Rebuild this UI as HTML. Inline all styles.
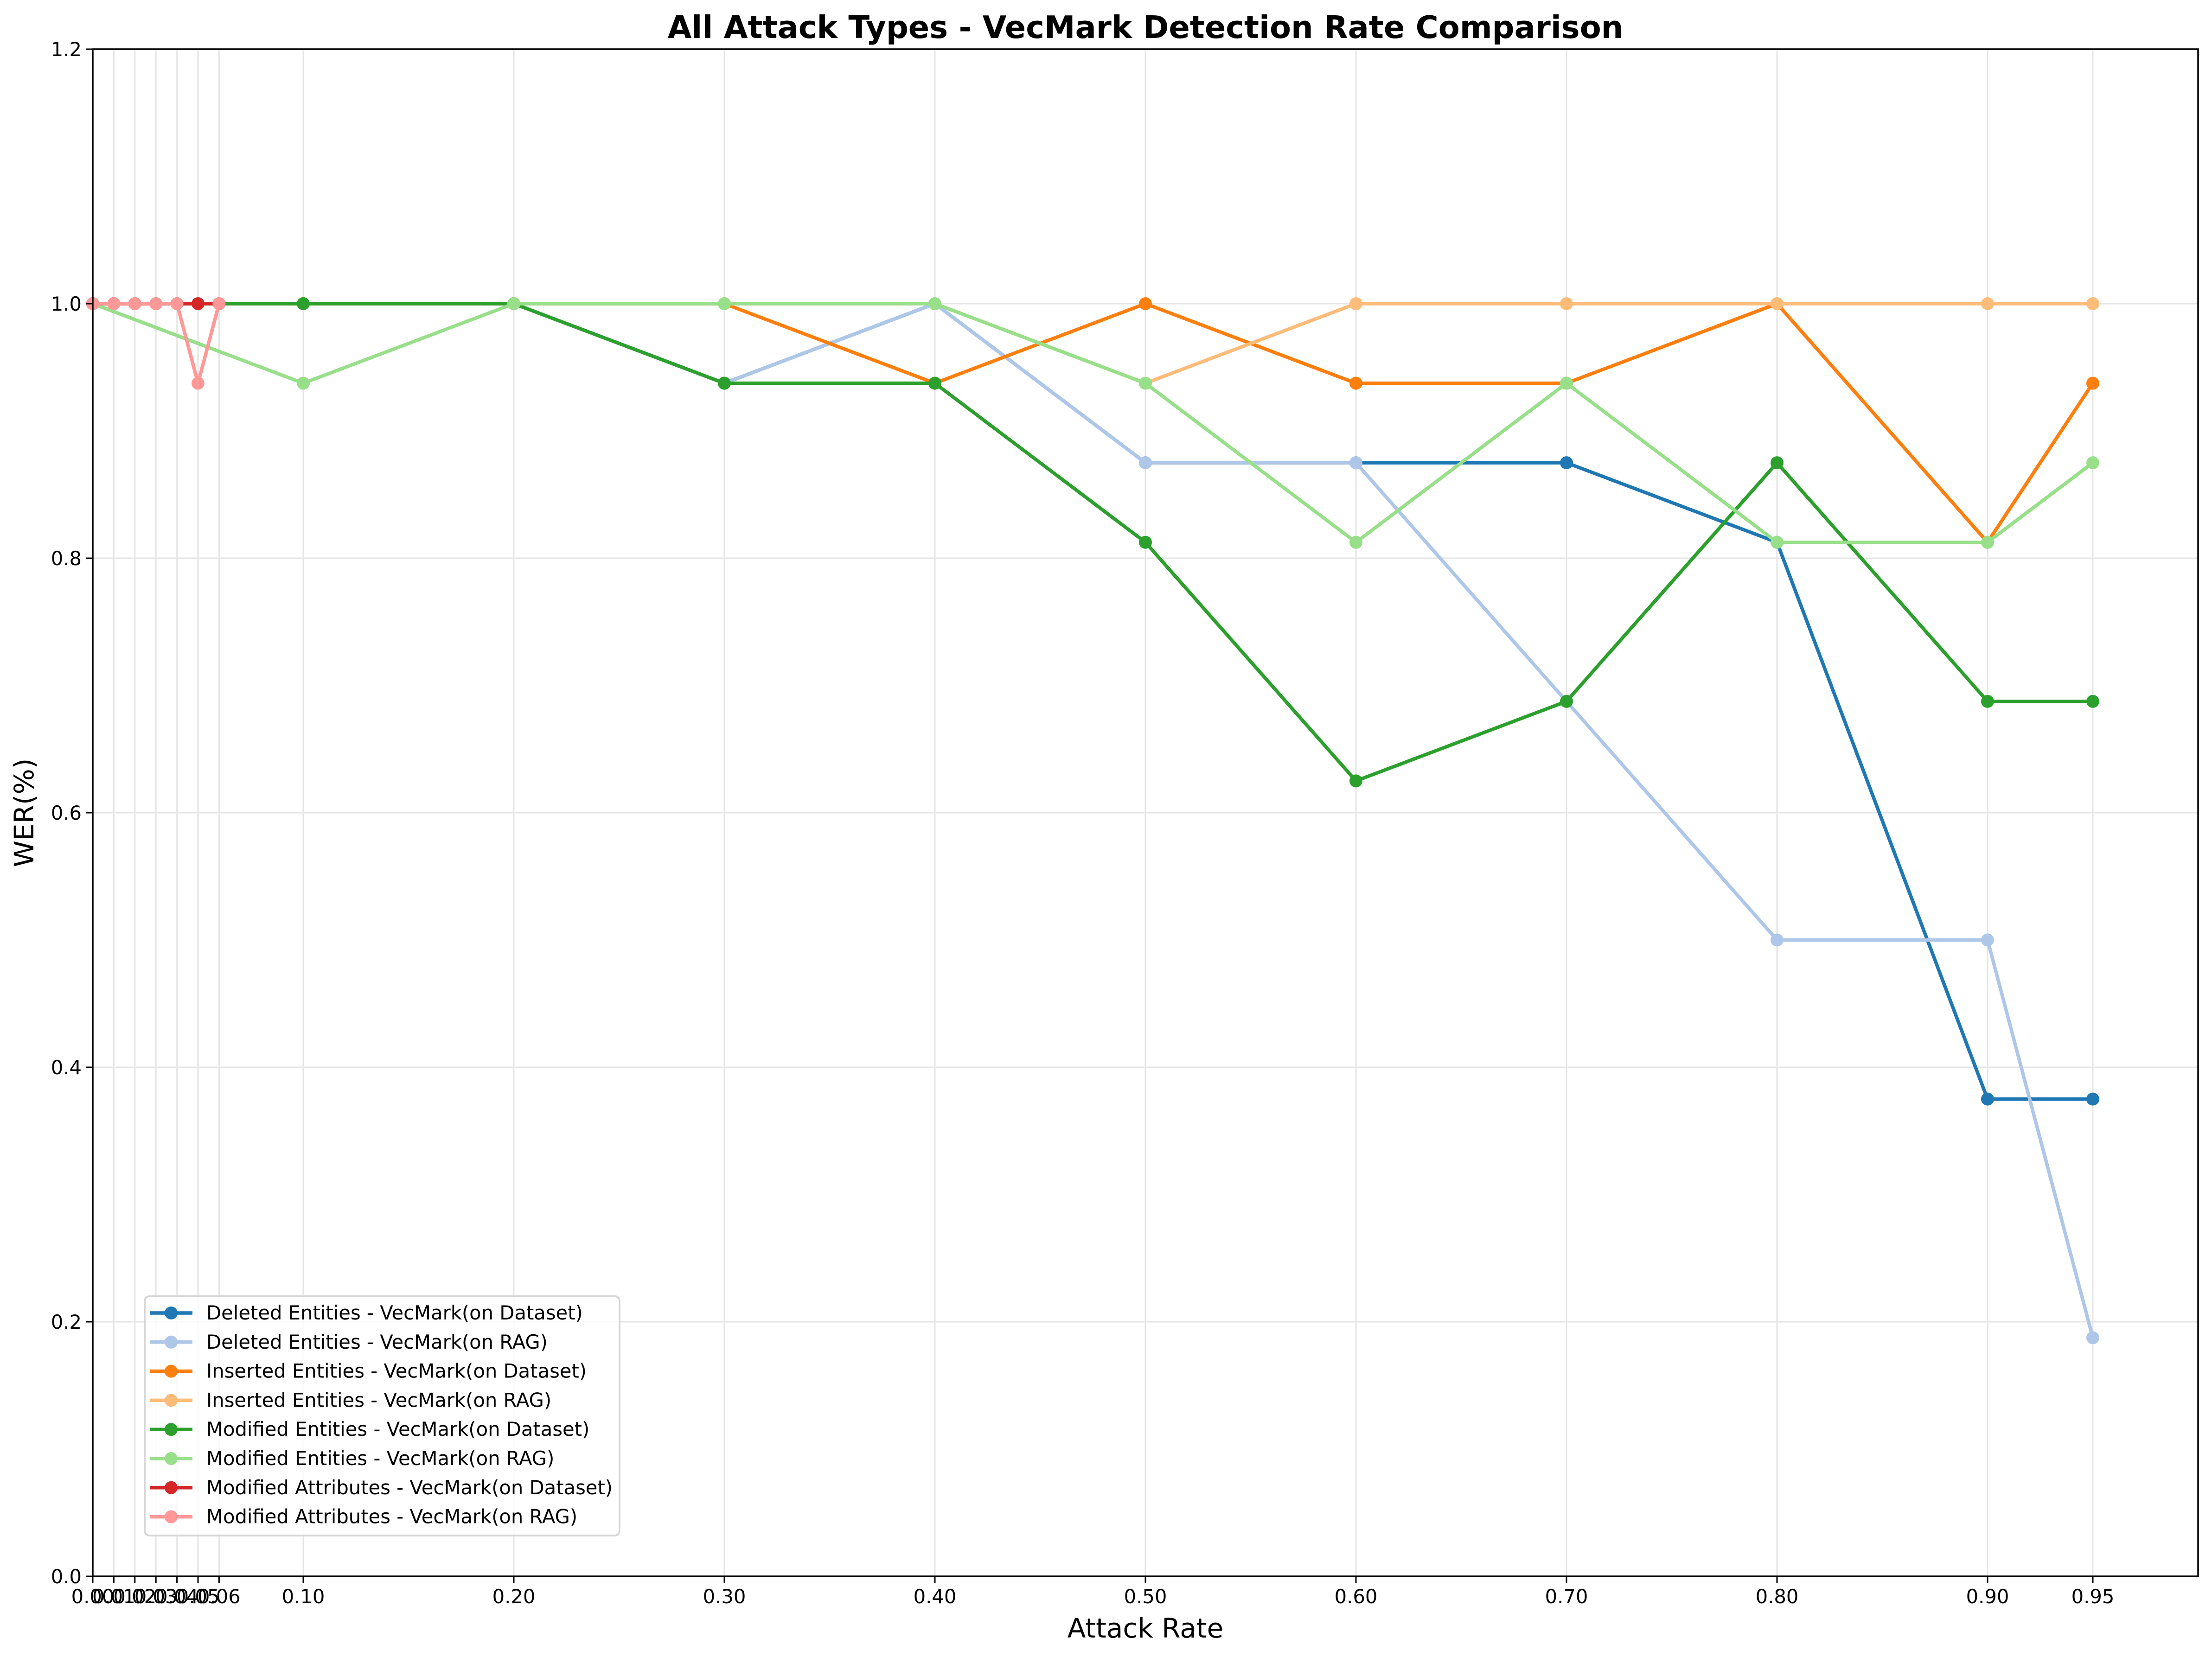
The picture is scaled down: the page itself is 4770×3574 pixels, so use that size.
<!DOCTYPE html>
<html><head><meta charset="utf-8"><style>
html,body{margin:0;padding:0;background:#fff;}
svg{display:block;font-family:"DejaVu Sans","Liberation Sans",sans-serif;}
</style></head><body>
<svg id="chart" width="4770" height="3574" viewBox="0 0 4770 3574" xmlns="http://www.w3.org/2000/svg">
<rect width="4770" height="3574" fill="#fff"/>
<g id="grid"></g>
<g id="series"></g>
<g id="axes"></g>
<text x="2470" y="82" text-anchor="middle" font-size="67" font-weight="bold">All Attack Types - VecMark Detection Rate Comparison</text>
<text x="2470" y="3532" text-anchor="middle" font-size="58">Attack Rate</text>
<text transform="translate(72,1753) rotate(-90)" text-anchor="middle" font-size="58">WER(%)</text>
<g id="legend"></g>
</svg>
<script>
const xTicks = [0,0.01,0.02,0.03,0.04,0.05,0.06,0.1,0.2,0.3,0.4,0.5,0.6,0.7,0.8,0.9,0.95];
const xTickLabels = ["0.00","0.01","0.02","0.03","0.04","0.05","0.06","0.10","0.20","0.30","0.40","0.50","0.60","0.70","0.80","0.90","0.95"];
const yTicks = [0,0.2,0.4,0.6,0.8,1.0,1.2];
const yTickLabels = ["0.0","0.2","0.4","0.6","0.8","1.0","1.2"];
const entityX = [0,0.1,0.2,0.3,0.4,0.5,0.6,0.7,0.8,0.9,0.95];
const attrX = [0,0.01,0.02,0.03,0.04,0.05,0.06];
const deletedDataset = [1,1,1,0.9375,1,0.875,0.875,0.875,0.8125,0.375,0.375];
const deletedRag = [1,1,1,0.9375,1,0.875,0.875,0.6875,0.5,0.5,0.1875];
const insertedDataset = [1,1,1,1,0.9375,1,0.9375,0.9375,1,0.8125,0.9375];
const insertedRag = [1,1,1,1,1,0.9375,1,1,1,1,1];
const modifiedDataset = [1,1,1,0.9375,0.9375,0.8125,0.625,0.6875,0.875,0.6875,0.6875];
const modifiedRag = [1,0.9375,1,1,1,0.9375,0.8125,0.9375,0.8125,0.8125,0.875];
const attrDataset = [1,1,1,1,1,1,1];
const attrRag = [1,1,1,1,1,0.9375,1];
const seriesNames = ["Deleted Entities - VecMark(on Dataset)","Deleted Entities - VecMark(on RAG)","Inserted Entities - VecMark(on Dataset)","Inserted Entities - VecMark(on RAG)","Modified Entities - VecMark(on Dataset)","Modified Entities - VecMark(on RAG)","Modified Attributes - VecMark(on Dataset)","Modified Attributes - VecMark(on RAG)"];

const NS="http://www.w3.org/2000/svg";
const L=200,R=4740,T=106,B=3400;
const xs=v=>L+v*(R-L)/1.0;
const ys=v=>B-v*(B-T)/1.2;
function mk(tag,attrs,parent){const e=document.createElementNS(NS,tag);for(const k in attrs)e.setAttribute(k,attrs[k]);parent.appendChild(e);return e;}
const grid=document.getElementById('grid'),axes=document.getElementById('axes'),ser=document.getElementById('series'),leg=document.getElementById('legend');
xTicks.forEach((t,i)=>{
  const g=mk('line',{x1:xs(t),x2:xs(t),y1:T,y2:B,stroke:'#e5e5e5','stroke-width':3},grid);
  
  
  const tk=mk('line',{x1:xs(t),x2:xs(t),y1:B,y2:B+14,stroke:'#000','stroke-width':3},axes);
  
  
  const tx=mk('text',{x:xs(t),y:B+58,'text-anchor':'middle','font-size':41.7},axes);
  tx.textContent=xTickLabels[i];
  
  
});
yTicks.forEach((t,i)=>{
  const g=mk('line',{x1:L,x2:R,y1:ys(t),y2:ys(t),stroke:'#e5e5e5','stroke-width':3},grid);
  
  
  const tk=mk('line',{x1:L-14,x2:L,y1:ys(t),y2:ys(t),stroke:'#000','stroke-width':3},axes);
  
  
  const tx=mk('text',{x:L-24,y:ys(t)+15,'text-anchor':'end','font-size':41.7},axes);
  tx.textContent=yTickLabels[i];
  
  
});
const fr=mk('rect',{x:L,y:T,width:R-L,height:B-T,fill:'none',stroke:'#000','stroke-width':3.5},axes);


const colors=['#1f77b4','#aec7e8','#ff7f0e','#ffbb78','#2ca02c','#98df8a','#d62728','#ff9896'];
const allData=[[entityX,deletedDataset],[entityX,deletedRag],[entityX,insertedDataset],[entityX,insertedRag],[entityX,modifiedDataset],[entityX,modifiedRag],[attrX,attrDataset],[attrX,attrRag]];
allData.forEach((d,si)=>{
  const [xa,ya]=d;
  const g=mk('g',{},ser);
  
  
  const pts=xa.map((x,i)=>xs(x)+','+ys(ya[i])).join(' ');
  const pl=mk('polyline',{points:pts,fill:'none',stroke:colors[si],'stroke-width':7.5,'stroke-linejoin':'round'},g);
  
  
  xa.forEach((x,i)=>{
    const c=mk('circle',{cx:xs(x),cy:ys(ya[i]),r:14,fill:colors[si]},g);
    
    
  });
});
const lb=mk('rect',{x:312,y:2796,width:1024,height:516,rx:10,fill:'#fff','fill-opacity':0.8,stroke:'#d5d5d5','stroke-width':4},leg);


seriesNames.forEach((n,i)=>{
  const y=2832+i*62.8;
  const g=mk('g',{},leg);
  
  
  mk('line',{x1:323,x2:415,y1:y,y2:y,stroke:colors[i],'stroke-width':7.5},g);
  mk('circle',{cx:369,cy:y,r:14,fill:colors[i]},g);
  const t=mk('text',{x:445,y:y+14,'font-size':41.7},g);
  t.textContent=n;
});
</script>
</body></html>
